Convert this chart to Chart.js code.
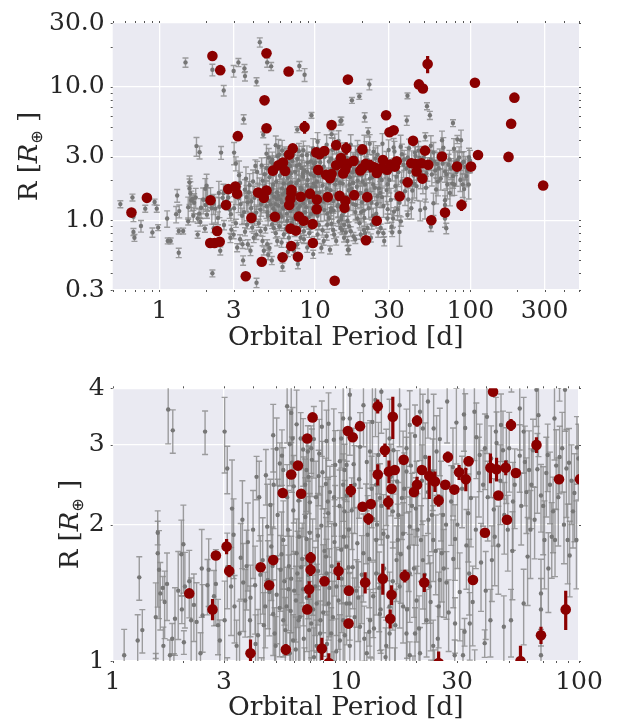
<!DOCTYPE html>
<html>
<head>
<meta charset="utf-8">
<script src="https://cdn.jsdelivr.net/npm/chart.js@4.4.0/dist/chart.umd.min.js"></script>
<style>
  html, body { margin: 0; padding: 0; background: #fff; }
  #wrap { position: relative; width: 629px; height: 727px; }
  canvas { position: absolute; left: 0; }
  #topChart { top: 0; }
  #bottomChart { top: 364px; }
</style>
</head>
<body>
<div id="wrap">
  <canvas id="topChart" width="629" height="362"></canvas>
  <canvas id="bottomChart" width="629" height="363"></canvas>
</div>
<script>
// axis ticks
const topXTicks = [1, 3, 10, 30, 100, 300];
const topYTicks = [0.3, 1, 3, 10, 30];
const topYLabels = ['0.3', '1.0', '3.0', '10.0', '30.0'];
const bottomXTicks = [1, 3, 10, 30, 100];
const bottomYTicks = [1, 2, 3, 4];

// highlighted planets: [period d, radius R_earth, radius error R_earth]
const redPoints = [
    [2.13, 1.41, 0.03], [2.68, 1.30, 0.07], [2.77, 1.71, 0.03], [3.08, 1.79, 0.07], [3.16, 1.58, 0.05],
    [3.90, 1.04, 0.075], [4.31, 1.61, 0.03], [4.69, 1.47, 0.03], [4.88, 1.67, 0.04], [5.36, 2.35, 0.03],
    [5.53, 1.06, 0.03], [5.83, 2.58, 0.03], [6.23, 2.70, 0.03], [6.43, 2.34, 0.03], [6.83, 3.10, 0.04],
    [7.20, 3.45, 0.05], [7.06, 1.69, 0.05], [7.06, 1.59, 0.05], [6.96, 1.44, 0.06], [6.83, 1.30, 0.03],
    [7.89, 1.065, 0.06], [8.10, 1.50, 0.03], [8.45, 0.99, 0.05], [9.30, 1.58, 0.07], [10.3, 1.43, 0.03],
    [10.27, 1.21, 0.03], [12.1, 1.49, 0.08], [14.4, 1.52, 0.12], [15.7, 1.40, 0.07], [15.5, 1.24, 0.06],
    [17.9, 1.54, 0.05], [21.7, 1.49, 0.07], [25.0, 0.99, 0.06], [35.1, 1.51, 0.03], [39.5, 1.92, 0.03],
    [49.1, 2.05, 0.04], [56.1, 1.00, 0.08], [68.7, 1.14, 0.05], [87.7, 1.30, 0.13], [10.2, 3.22, 0.04],
    [10.7, 3.12, 0.04], [11.5, 3.30, 0.05], [10.5, 2.38, 0.08], [11.8, 2.19, 0.03], [12.8, 2.22, 0.03],
    [12.5, 2.06, 0.06], [13.7, 3.65, 0.13], [15.9, 3.46, 0.37], [14.7, 2.92, 0.10], [13.7, 2.58, 0.14],
    [15.3, 2.62, 0.15], [16.2, 2.64, 0.05], [15.7, 2.40, 0.04], [15.2, 2.24, 0.08], [17.7, 2.78, 0.04],
    [20.2, 3.39, 0.10], [21.2, 2.64, 0.04], [20.2, 2.45, 0.10], [19.6, 2.36, 0.04], [22.8, 2.56, 0.28],
    [24.1, 2.49, 0.13], [25.0, 2.26, 0.07], [26.7, 2.45, 0.04], [27.4, 2.82, 0.08], [29.2, 2.39, 0.04],
    [30.6, 2.61, 0.10], [32.7, 2.52, 0.15], [33.6, 2.76, 0.07], [41.7, 2.67, 0.20], [44.3, 2.65, 0.16],
    [45.1, 2.32, 0.04], [48.5, 2.67, 0.10], [53.6, 2.60, 0.04], [42.8, 3.93, 0.05], [51.1, 3.32, 0.10],
    [65.7, 3.00, 0.12], [82.1, 2.52, 0.04], [101, 2.52, 0.04],
    [0.66, 1.14, 0.03], [0.83, 1.47, 0.03], [2.35, 0.83, 0.02], [2.12, 0.675, 0.02], [2.26, 0.675, 0.02],
    [2.44, 0.69, 0.02], [3.59, 0.38, 0.01], [4.55, 0.488, 0.01], [6.19, 0.527, 0.01], [7.77, 0.533, 0.01],
    [7.04, 0.64, 0.02], [6.97, 0.865, 0.02], [7.54, 0.836, 0.02], [9.67, 0.935, 0.02], [9.70, 0.675, 0.02],
    [13.4, 0.352, 0.01], [21.3, 0.707, 0.02], [2.19, 17.0, 0.3], [2.46, 13.3, 0.3], [4.88, 17.8, 0.3],
    [6.77, 13.0, 0.3], [16.3, 11.3, 0.3], [4.74, 7.9, 0.2], [4.88, 4.88, 0.1], [3.19, 4.26, 0.1],
    [8.58, 4.99, 0.55], [12.8, 5.17, 0.1], [53.1, 14.8, 2.2], [46.7, 10.4, 0.3], [49.5, 9.7, 0.3],
    [107, 10.7, 0.3], [192, 8.28, 0.2], [183, 5.28, 0.1], [28.7, 6.11, 0.15], [30.2, 4.56, 0.1],
    [32.1, 4.72, 0.1], [112, 3.08, 0.05], [176, 2.98, 0.05], [294, 1.82, 0.04]
];

// all other planets: [period d, radius R_earth, fractional radius error]
const grayPoints = [
    // large radii
    [1.47, 15.2, .08], [2.19, 13.4, .10], [2.59, 9.36, .09], [3.0, 13.1, .10], [3.22, 15.2, .07],
    [3.52, 13.7, .07], [3.55, 12.0, .08], [4.42, 21.5, .08], [4.93, 15.2, .08], [5.23, 14.2, .07],
    [4.21, 10.9, .07], [7.94, 14.3, .08], [8.58, 12.3, .11], [3.48, 5.71, .08], [4.65, 4.36, .05],
    [7.7, 4.77, .05], [9.5, 6.11, .05], [12.8, 4.41, .06], [14.6, 5.53, .07],
    [22.4, 10.4, .09], [17.3, 7.9, .05], [19.3, 8.46, .05], [20.9, 5.91, .08], [22.0, 4.56, .08],
    [14.8, 5.58, .06], [39.0, 5.58, .08], [39.4, 8.55, .05], [52.6, 7.15, .06], [54.9, 6.11, .07],
    [51.3, 4.22, .07], [77.3, 5.34, .06], [82.5, 4.03, .07],
    // short periods and small radii
    [0.56, 1.32, .06], [0.67, 1.48, .06], [0.68, 1.06, .08], [0.68, 0.817, .06], [0.69, 0.738, .06],
    [0.76, 0.904, .10], [0.81, 1.22, .06], [0.90, 0.81, .08], [0.93, 1.37, .05], [0.96, 1.22, .06],
    [0.98, 0.88, .05], [1.13, 0.70, .05], [1.18, 0.70, .05], [1.33, 0.57, .08], [1.33, 0.83, .05],
    [1.42, 0.83, .05], [1.53, 0.98, .06], [1.56, 1.92, .06], [1.64, 1.45, .06], [1.76, 0.78, .06],
    [1.83, 0.97, .07], [1.98, 1.30, .07], [1.96, 0.865, .06], [2.02, 1.10, .06], [2.19, 0.40, .06],
    [2.23, 0.87, .07], [2.46, 0.59, .07], [3.0, 0.78, .07], [3.45, 0.50, .08], [3.42, 0.66, .07],
    [4.21, 0.34, .08], [5.28, 0.50, .07], [6.19, 0.446, .07], [7.77, 0.47, .08], [9.75, 0.557, .07],
    [12.5, 0.60, .07], [13.1, 0.845, .08], [16.5, 0.60, .08], [12.6, 1.16, .07],
    [16.3, 0.60, .08], [17.7, 0.755, .07], [15.8, 0.81, .07], [20.7, 0.845, .07], [25.5, 0.81, .08],
    [27.6, 0.80, .07], [35.0, 0.817, .22], [31.1, 0.894, .08], [70.0, 0.87, .09], [31.4, 0.81, .07],
    [55.7, 0.894, .08],
    [3.66, 0.925, .07], [4.04, 0.738, .08], [4.47, 0.826, .07], [4.93, 0.66, .08], [5.44, 0.874, .07],
    [5.72, 0.698, .08], [6.31, 0.782, .07], [6.64, 0.99, .08], [7.32, 0.59, .07], [8.09, 0.738, .08],
    [8.49, 0.826, .07], [8.93, 0.624, .08], [9.38, 0.874, .07], [10.4, 0.782, .08], [11.4, 0.698, .07],
    [12.0, 0.925, .08], [13.3, 0.782, .07], [14.6, 0.874, .08], [15.4, 0.738, .07], [16.2, 0.99, .08],
    [4.69, 0.59, .07], [3.85, 0.59, .08], [3.16, 0.624, .07], [2.86, 0.738, .08],
    [15.4, 0.925, .07], [17.0, 0.826, .08], [18.8, 1.03, .07], [19.7, 0.782, .08], [21.8, 0.874, .07],
    [24.0, 0.98, .08], [26.5, 0.874, .07], [29.3, 1.03, .08], [32.3, 1.16, .07], [35.7, 0.98, .08],
    [39.4, 1.095, .07], [16.2, 0.698, .08], [22.9, 0.738, .07], [27.9, 0.698, .08],
    [2.6, 0.92, .08], [2.9, 0.85, .08], [3.1, 0.95, .07], [3.3, 0.72, .08], [3.55, 0.82, .07],
    [3.7, 0.66, .08], [3.95, 0.88, .07], [4.2, 0.78, .08], [4.35, 0.95, .07], [4.6, 0.70, .08],
    [4.8, 0.86, .07], [5.1, 0.62, .08], [5.3, 0.93, .07], [5.6, 0.80, .08], [5.9, 0.90, .07],
    [6.1, 0.68, .08], [6.5, 0.86, .07], [6.8, 0.74, .08], [7.1, 0.95, .07], [7.4, 0.82, .08],
    [7.7, 0.66, .07], [8.1, 0.90, .08], [8.5, 0.72, .07], [8.9, 0.97, .08], [9.2, 0.80, .07],
    [9.9, 0.70, .08], [10.6, 0.92, .07], [11.2, 0.84, .08], [11.9, 0.76, .07], [12.8, 0.94, .08],
    [13.7, 0.70, .07], [14.2, 0.98, .08], [15.0, 0.84, .07], [16.6, 0.90, .08], [18.2, 0.72, .07],
    [19.4, 0.95, .08], [21.0, 0.80, .07], [23.2, 0.93, .08], [5.0, 0.55, .08], [6.7, 0.58, .08],
    [11.0, 0.62, .08],
    // 1 - 4 R_earth, periods 1.7 - 10 d, upper part
    [1.73, 3.59, .16], [1.81, 3.23, .11], [2.49, 3.21, .11], [3.02, 3.21, .19], [3.10, 2.66, .12],
    [3.25, 2.17, .28], [4.14, 2.55, .11], [4.54, 2.57, .14], [4.75, 2.21, .14], [4.88, 3.15, .17],
    [5.05, 2.94, .17], [5.21, 2.73, .11], [5.32, 2.84, .14], [5.39, 2.64, .12], [5.6, 3.65, .17],
    [5.75, 3.01, .19], [5.83, 3.53, .14], [5.87, 2.74, .14], [5.91, 3.10, .17], [5.98, 2.43, .17],
    [6.15, 3.33, .19], [6.27, 2.26, .17], [6.40, 3.10, .14], [6.56, 2.93, .17], [6.69, 2.45, .14],
    [6.78, 2.64, .19], [6.87, 2.90, .14], [6.92, 2.55, .17], [7.01, 2.24, .14], [7.10, 2.95, .12],
    [7.15, 2.78, .17], [7.29, 3.09, .18], [7.64, 2.56, .14], [7.69, 2.87, .19], [7.89, 3.29, .14],
    [7.94, 2.61, .17], [8.21, 2.46, .14], [8.26, 3.06, .17], [8.37, 2.25, .12], [8.43, 3.34, .17],
    [8.54, 2.36, .14], [8.88, 3.08, .17], [9.0, 2.71, .19], [9.43, 2.76, .17], [9.55, 3.10, .14],
    [9.74, 2.45, .17], [9.87, 2.64, .14], [10.1, 2.32, .19], [10.4, 3.43, .17],
    // 1 - 2 R_earth, periods 1 - 10 d
    [1.12, 1.03, .14], [1.30, 1.53, .11], [1.28, 1.11, .14], [1.34, 1.17, .11], [1.53, 1.25, .19],
    [1.56, 1.73, .24], [1.58, 1.59, .22], [1.60, 1.41, .17], [1.65, 1.08, .10], [1.67, 1.35, .17],
    [1.71, 1.48, .17], [1.76, 1.03, .08], [1.80, 1.12, .08], [1.85, 1.24, .17], [1.91, 1.43, .22],
    [1.97, 1.72, .19], [2.01, 1.81, .22], [2.04, 1.46, .19], [2.13, 1.50, .17], [2.17, 1.23, .24],
    [2.23, 1.33, .17], [2.29, 1.22, .22], [2.38, 1.04, .11], [2.41, 1.60, .22], [2.43, 1.26, .17],
    [2.55, 1.47, .14], [2.58, 1.59, .17], [2.72, 1.39, .14], [2.77, 1.48, .19], [2.83, 1.20, .14],
    [2.88, 1.11, .11], [3.02, 1.23, .22], [3.10, 1.61, .19], [3.22, 1.46, .22], [3.33, 1.32, .17],
    [3.40, 1.08, .14], [3.54, 1.69, .19], [3.63, 1.49, .22], [3.70, 1.36, .17], [3.80, 1.83, .22],
    [3.88, 1.23, .19], [4.08, 1.47, .22], [4.20, 1.14, .14], [4.40, 1.67, .24], [4.51, 1.32, .19],
    [4.63, 1.51, .22], [4.79, 1.79, .24], [4.88, 1.27, .19], [4.95, 1.15, .14], [5.05, 1.40, .22],
    [5.25, 1.59, .19], [5.39, 1.23, .17], [5.57, 1.32, .22], [5.68, 1.44, .19], [5.83, 1.52, .24],
    [5.94, 1.11, .14], [6.11, 1.36, .19], [6.27, 1.23, .22], [6.43, 1.61, .22], [6.56, 1.44, .17],
    [6.78, 1.86, .24], [6.96, 1.17, .17], [7.24, 1.30, .19], [7.39, 1.46, .22], [7.59, 1.89, .24],
    [7.79, 1.23, .19], [8.0, 1.48, .22], [8.21, 1.70, .22], [8.43, 1.34, .17], [8.65, 1.15, .14],
    [8.94, 1.83, .24], [9.12, 1.46, .22], [9.55, 1.76, .24], [9.74, 1.23, .19], [10.07, 1.34, .19],
    [10.27, 1.61, .22], [5.39, 1.85, .22], [6.15, 1.73, .19], [7.01, 1.59, .17], [7.49, 1.08, .14],
    [8.26, 1.56, .19], [9.43, 1.11, .14], [5.75, 1.04, .11],
    [3.3, 1.90, .20], [3.5, 1.15, .18], [3.6, 2.05, .22], [3.75, 1.62, .20], [3.9, 1.38, .18],
    [4.0, 1.95, .22], [4.1, 1.09, .16], [4.25, 2.30, .20], [4.3, 1.55, .22], [4.45, 1.20, .18],
    [4.6, 1.98, .24], [4.7, 1.42, .20], [4.85, 1.62, .22], [5.0, 1.08, .16], [5.1, 2.10, .20],
    [5.2, 1.31, .22], [5.3, 1.72, .24], [5.45, 1.50, .20], [5.5, 1.17, .18], [5.65, 1.95, .22],
    [5.7, 1.62, .20], [5.8, 1.29, .24], [5.95, 2.15, .20], [6.0, 1.43, .22], [6.1, 1.06, .18],
    [6.2, 1.56, .24], [6.3, 1.88, .20], [6.35, 1.25, .22], [6.5, 1.68, .20], [6.6, 1.12, .18],
    [6.7, 2.08, .22], [6.8, 1.38, .24], [6.9, 1.55, .20], [7.0, 1.92, .22], [7.1, 1.21, .20],
    [7.2, 1.66, .24], [7.3, 1.02, .16], [7.45, 2.30, .20], [7.5, 1.34, .22], [7.6, 1.58, .24],
    [7.75, 1.15, .18], [7.85, 1.99, .22], [8.0, 1.28, .20], [8.1, 1.75, .24], [8.3, 1.09, .18],
    [8.4, 2.12, .20], [8.5, 1.45, .22], [8.7, 1.62, .24], [8.8, 1.25, .20], [9.0, 2.00, .22],
    [9.1, 1.05, .18], [9.3, 1.36, .22], [9.4, 2.20, .20], [9.6, 1.52, .24], [9.8, 1.88, .22],
    [9.9, 1.14, .18], [4.9, 2.45, .20], [5.6, 2.30, .18], [6.6, 2.35, .20], [8.9, 2.30, .18],
    // 2 - 4 R_earth, periods 10 - 100 d
    [10.4, 3.87, .17], [11.5, 2.97, .19], [13.0, 3.37, .22], [13.4, 3.77, .17], [14.2, 3.93, .19],
    [14.9, 2.62, .24], [16.6, 2.49, .17], [18.2, 2.95, .22], [18.8, 3.32, .19], [19.8, 3.14, .17],
    [20.8, 3.55, .22], [21.9, 2.82, .19], [22.5, 3.74, .17], [23.8, 3.26, .19], [25.3, 3.09, .17],
    [27.2, 3.74, .19], [28.8, 2.68, .22], [29.8, 3.36, .19], [32.1, 3.50, .17], [32.5, 3.27, .19],
    [35.6, 3.55, .22], [36.3, 3.12, .19], [37.5, 2.85, .17], [39.5, 2.95, .19], [40.3, 3.46, .17],
    [44.0, 3.21, .19], [44.3, 3.03, .17], [47.2, 2.92, .22], [48.8, 2.75, .19], [55.7, 2.84, .17],
    [57.9, 3.21, .19], [61.1, 2.64, .22], [63.5, 2.92, .17], [67.0, 3.49, .19], [73.4, 2.85, .17],
    [78.5, 3.43, .19], [82.6, 2.82, .17], [88.3, 2.66, .22], [90.6, 2.74, .19], [98.0, 2.96, .17],
    [99.4, 2.80, .19], [12.3, 2.75, .22], [17.4, 2.29, .19], [19.95, 2.17, .17], [22.5, 2.36, .19],
    [26.1, 2.10, .17], [34.4, 2.29, .22], [38.8, 2.45, .19], [43.1, 2.16, .17], [52.1, 2.25, .22],
    [59.5, 2.36, .19], [68.7, 2.32, .17], [77.4, 2.14, .19], [94.2, 2.14, .17], [87.1, 3.97, .19],
    [65.7, 3.97, .17], [55.7, 3.61, .19], [46.3, 3.32, .17], [18.2, 2.62, .19], [13.5, 2.45, .17],
    [9.74, 3.43, .19], [10.07, 2.71, .17], [10.9, 2.45, .22], [11.9, 3.67, .19], [12.7, 2.90, .17],
    [14.0, 2.29, .19], [15.4, 3.10, .22], [15.9, 2.14, .17], [17.0, 3.67, .19], [17.6, 2.75, .17],
    [21.4, 3.26, .19], [23.4, 2.10, .17], [20.1, 2.32, .19], [9.87, 2.14, .17], [13.1, 2.06, .19],
    [40.6, 2.30, .20], [42.0, 2.80, .18], [43.5, 1.88, .22], [46.0, 2.50, .20], [47.8, 2.10, .18],
    [50.2, 2.95, .20], [51.8, 1.75, .22], [53.0, 2.45, .20], [56.5, 2.20, .18], [58.6, 2.75, .20],
    [60.2, 1.70, .22], [62.5, 2.45, .20], [64.5, 2.05, .18], [66.3, 2.65, .20], [70.2, 2.20, .22],
    [72.4, 2.60, .20], [75.1, 2.45, .18], [79.8, 2.70, .20], [81.5, 2.30, .22], [84.7, 2.95, .20],
    [86.2, 2.00, .18], [92.8, 2.50, .20], [95.6, 2.35, .22], [89.4, 1.85, .20], [73.9, 1.60, .20],
    // 1 - 3 R_earth, periods 10 - 100 d
    [10.07, 1.79, .19], [10.4, 1.08, .14], [11.5, 1.19, .17], [13.1, 1.39, .19], [13.5, 1.85, .22],
    [14.9, 1.08, .14], [16.5, 1.67, .19], [17.6, 1.32, .17], [18.8, 1.98, .22], [19.8, 1.15, .14],
    [21.0, 1.85, .19], [22.9, 1.46, .17], [25.0, 1.32, .19], [25.8, 1.73, .22], [27.0, 1.49, .17],
    [29.4, 1.86, .19], [29.4, 1.21, .14], [31.8, 1.03, .14], [34.0, 1.21, .17], [33.8, 1.56, .19],
    [39.8, 1.43, .22], [41.7, 1.23, .17], [42.3, 1.67, .19], [45.1, 1.80, .22], [47.6, 1.19, .17],
    [49.5, 1.95, .19], [51.1, 1.23, .17], [57.9, 1.34, .19], [61.9, 1.95, .22], [68.7, 1.41, .19],
    [68.7, 1.03, .14], [71.1, 1.85, .22], [76.4, 1.88, .19], [78.9, 1.85, .17], [91.2, 1.71, .19],
    [97.5, 1.85, .22], [68.7, 1.30, .17], [18.2, 1.15, .14], [14.0, 1.27, .17], [10.7, 1.61, .19],
    [11.1, 1.43, .17], [11.9, 1.73, .22], [12.7, 1.23, .17], [13.5, 1.56, .19], [14.5, 1.91, .22],
    [15.4, 1.15, .14], [17.0, 1.46, .19], [17.6, 1.91, .17], [20.1, 1.36, .19], [21.4, 1.67, .22],
    [22.2, 1.23, .17], [23.7, 1.08, .14], [10.4, 1.34, .17], [12.3, 1.04, .11], [15.4, 1.32, .19],
    [18.8, 1.56, .22], [20.8, 1.04, .14], [23.7, 1.85, .19], [25.3, 1.51, .17],
    [10.3, 1.95, .20], [10.6, 2.15, .18], [10.9, 1.25, .22], [11.2, 1.82, .20], [11.4, 2.52, .18],
    [11.7, 1.55, .22], [12.0, 1.12, .18], [12.2, 2.05, .20], [12.6, 1.68, .22], [12.9, 2.40, .18],
    [13.2, 1.18, .20], [13.6, 2.00, .22], [13.9, 1.45, .20], [14.2, 2.20, .18], [14.6, 1.60, .22],
    [14.8, 1.02, .16], [15.1, 1.88, .20], [15.6, 2.55, .18], [15.9, 1.50, .22], [16.3, 1.20, .20],
    [16.8, 2.10, .18], [17.2, 1.72, .22], [17.8, 2.40, .20], [18.3, 1.30, .22], [18.6, 1.78, .20],
    [19.2, 2.20, .18], [19.6, 1.60, .22], [20.3, 1.95, .20], [20.6, 1.18, .18], [21.2, 2.50, .20],
    [21.8, 1.55, .22], [22.6, 2.05, .20], [23.1, 1.35, .22], [23.6, 2.62, .18], [24.3, 1.75, .20],
    [24.8, 1.12, .18], [25.6, 2.30, .20], [26.3, 1.60, .22], [26.9, 2.00, .20], [27.6, 1.28, .18],
    [28.3, 2.25, .20], [28.9, 1.68, .22], [30.1, 2.00, .20], [30.8, 1.42, .22], [31.5, 2.40, .18],
    [32.9, 1.80, .20], [33.5, 2.12, .22], [35.0, 1.35, .20], [36.1, 1.95, .18], [37.2, 2.60, .20],
    [38.0, 1.65, .22], [10.8, 2.72, .20], [13.8, 2.85, .18], [16.0, 2.92, .20], [19.0, 2.70, .18],
    [24.5, 2.90, .20], [11.3, 1.38, .20], [12.4, 1.90, .22], [14.1, 1.30, .20], [16.7, 1.85, .20]
];

const INK = '#262626';
Chart.defaults.font.family = "'DejaVu Serif', serif";
Chart.defaults.color = INK;

const panelBackground = {
    id: 'panelBackground',
    beforeDraw(chart) {
        const { ctx, chartArea: a } = chart;
        ctx.save();
        ctx.fillStyle = '#EAEAF2';
        ctx.fillRect(a.left, a.top, a.right - a.left, a.bottom - a.top);
        ctx.restore();
    }
};

const errorBars = {
    id: 'errorBars',
    beforeDatasetDraw(chart, args) {
        const ds = chart.data.datasets[args.index];
        if (!ds.errLo) return;
        const { ctx, chartArea: a, scales: { y } } = chart;
        ctx.save();
        ctx.beginPath();
        ctx.rect(a.left, a.top, a.right - a.left, a.bottom - a.top);
        ctx.clip();
        ctx.strokeStyle = ds.errColor;
        ctx.lineWidth = ds.errWidth;
        args.meta.data.forEach((pt, i) => {
            const y0 = y.getPixelForValue(ds.errLo[i]);
            const y1 = y.getPixelForValue(ds.errHi[i]);
            ctx.beginPath();
            ctx.moveTo(pt.x, y0);
            ctx.lineTo(pt.x, y1);
            if (ds.errCap) {
                ctx.moveTo(pt.x - ds.errCap, y0);
                ctx.lineTo(pt.x + ds.errCap, y0);
                ctx.moveTo(pt.x - ds.errCap, y1);
                ctx.lineTo(pt.x + ds.errCap, y1);
            }
            ctx.stroke();
        });
        ctx.restore();
    }
};

function logSteps(min, max) {
    const out = [];
    for (let d = Math.floor(Math.log10(min)); d <= Math.ceil(Math.log10(max)); d++) {
        for (let k = 1; k < 10; k++) {
            const v = k * Math.pow(10, d);
            if (v >= min * 0.999 && v <= max * 1.001) out.push(v);
        }
    }
    return out;
}

const edgeTicks = {
    id: 'edgeTicks',
    afterDraw(chart) {
        const { ctx, chartArea: a, scales: { x, y } } = chart;
        ctx.save();
        ctx.strokeStyle = '#555';
        ctx.lineWidth = 1;
        ctx.beginPath();
        logSteps(x.min, x.max).forEach(v => {
            const px = Math.round(x.getPixelForValue(v)) + 0.5;
            ctx.moveTo(px, a.top - 2); ctx.lineTo(px, a.top);
            ctx.moveTo(px, a.bottom); ctx.lineTo(px, a.bottom + 2);
        });
        logSteps(y.min, y.max).forEach(v => {
            const py = Math.round(y.getPixelForValue(v)) + 0.5;
            ctx.moveTo(a.left - 2, py); ctx.lineTo(a.left, py);
            ctx.moveTo(a.right, py); ctx.lineTo(a.right + 2, py);
        });
        ctx.stroke();
        ctx.restore();
    }
};

// y title "R [R⊕]" with italic R and subscript earth symbol
const yTitle = {
    id: 'yTitle',
    afterDraw(chart, args, opts) {
        const { ctx, chartArea: a } = chart;
        const parts = [
            { t: 'R [', f: '26px "DejaVu Serif"', dy: 0 },
            { t: 'R', f: 'italic 26px "DejaVu Serif"', dy: 0 },
            { t: '\u2295', f: '16px "DejaVu Sans"', dy: 5 },
            { t: ' ]', f: '26px "DejaVu Serif"', dy: 0 }
        ];
        ctx.save();
        ctx.translate(opts.x, (a.top + a.bottom) / 2);
        ctx.rotate(-Math.PI / 2);
        ctx.fillStyle = INK;
        ctx.textBaseline = 'alphabetic';
        let total = 0;
        parts.forEach(p => { ctx.font = p.f; p.w = ctx.measureText(p.t).width; total += p.w; });
        let cx = -total / 2;
        parts.forEach(p => {
            ctx.font = p.f;
            ctx.fillText(p.t, cx, 9 + p.dy);
            cx += p.w;
        });
        ctx.restore();
    }
};

function makeDatasets() {
    return [
        {
            label: 'highlighted',
            data: redPoints.map(p => ({ x: p[0], y: p[1] })),
            errLo: redPoints.map(p => p[1] - p[2]),
            errHi: redPoints.map(p => p[1] + p[2]),
            errColor: '#8B0000',
            errWidth: 3.2,
            errCap: 0,
            pointRadius: 5.3,
            pointHoverRadius: 5.3,
            pointBackgroundColor: '#8B0000',
            pointBorderWidth: 0,
            clip: 0
        },
        {
            label: 'all',
            data: grayPoints.map(p => ({ x: p[0], y: p[1] })),
            errLo: grayPoints.map(p => p[1] * (1 - p[2])),
            errHi: grayPoints.map(p => p[1] * (1 + p[2])),
            errColor: 'rgba(135, 135, 135, 0.8)',
            errWidth: 1.4,
            errCap: 3,
            pointRadius: 2.2,
            pointHoverRadius: 2.2,
            pointBackgroundColor: '#767676',
            pointBorderWidth: 0,
            clip: 0
        }
    ];
}

function makePanel(id, p) {
    return new Chart(document.getElementById(id), {
        type: 'scatter',
        data: { datasets: makeDatasets() },
        plugins: [panelBackground, errorBars, edgeTicks, yTitle],
        options: {
            responsive: false,
            animation: false,
            events: [],
            layout: { padding: { left: 0, right: 50, top: p.padTop, bottom: 0 } },
            plugins: {
                legend: { display: false },
                tooltip: { enabled: false },
                yTitle: { x: p.titleX }
            },
            scales: {
                x: {
                    type: 'logarithmic',
                    min: p.xMin,
                    max: p.xMax,
                    afterBuildTicks: s => { s.ticks = p.xTicks.map(v => ({ value: v })); },
                    afterFit: s => { s.height = p.xAxisHeight; },
                    ticks: {
                        autoSkip: false,
                        maxRotation: 0,
                        padding: 6,
                        color: INK,
                        font: { size: 25 },
                        callback: v => String(v)
                    },
                    grid: { color: '#ffffff', lineWidth: 1.3, drawTicks: false },
                    border: { display: false },
                    title: {
                        display: true,
                        text: 'Orbital Period [d]',
                        color: INK,
                        font: { size: 26.5 },
                        padding: { top: 0, bottom: p.titlePad }
                    }
                },
                y: {
                    type: 'logarithmic',
                    min: p.yMin,
                    max: p.yMax,
                    afterBuildTicks: s => { s.ticks = p.yTicks.map(v => ({ value: v })); },
                    afterFit: s => { s.width = 112.7; },
                    ticks: {
                        autoSkip: false,
                        padding: 8,
                        color: INK,
                        font: { size: 25 },
                        callback: v => p.yLabels[p.yTicks.indexOf(v)]
                    },
                    grid: { color: '#ffffff', lineWidth: 1.3, drawTicks: false },
                    border: { display: false }
                }
            }
        }
    });
}

makePanel('topChart', {
    padTop: 17, xAxisHeight: 72, titlePad: 8, titleX: 28,
    xMin: 0.5, xMax: 500, yMin: 0.3, yMax: 30,
    xTicks: topXTicks, yTicks: topYTicks, yLabels: topYLabels
});

makePanel('bottomChart', {
    padTop: 24.3, xAxisHeight: 66, titlePad: 3, titleX: 69,
    xMin: 1, xMax: 100, yMin: 1, yMax: 4,
    xTicks: bottomXTicks, yTicks: bottomYTicks, yLabels: bottomYTicks.map(String)
});
</script>
</body>
</html>
